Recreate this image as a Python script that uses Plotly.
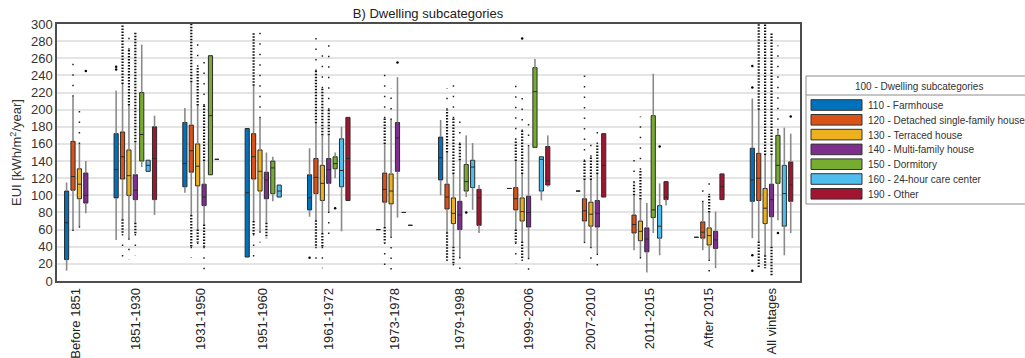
import plotly.graph_objects as go

# ---------------- data ----------------
vintages = ["Before 1851", "1851-1930", "1931-1950", "1951-1960", "1961-1972",
            "1973-1978", "1979-1998", "1999-2006", "2007-2010", "2011-2015",
            "After 2015", "All vintages"]
subcats = ["110 - Farmhouse", "120 - Detached single-family house",
           "130 - Terraced house", "140 - Multi-family house",
           "150 - Dormitory", "160 - 24-hour care center", "190 - Other"]
colors = ["#0072BD", "#D95319", "#EDB120", "#7E2F8E", "#77AC30", "#4DBEEE", "#A2142F"]

N = None
q1 = {
    "110": [25, 97, 110, 28, 83, 60, 118, 108, 105, N, 51, 93],
    "120": [106, 119, 127, 119, 102, 92, 84, 83, 70, 56, 50, 94],
    "130": [96, 100, 111, 105, 94, 90, 67, 70, 64, 47, 42, 67],
    "140": [91, 95, 88, 96, 114, 128, 60, 63, 63, 34, 38, 75],
    "150": [N, 140, 124, 102, 131, 80, 105, 156, N, 74, N, 114],
    "160": [N, 128, 142, 98, 110, 65, 109, 105, N, 50, N, 64],
    "190": [N, 95, N, N, 94, N, 65, 112, 98, 95, 95, 93],
}
median = {
    "110": [68, 130, 137, 103, 97, 60, 144, 108, 105, N, 51, 118],
    "120": [122, 145, 152, 145, 121, 107, 98, 96, 82, 66, 57, 120],
    "130": [113, 123, 134, 128, 114, 105, 79, 81, 78, 58, 53, 85],
    "140": [100, 106, 98, 118, 130, 167, 77, 80, 79, 49, 48, 95],
    "150": [N, 171, 193, 132, 137, 80, 116, 221, N, 83, N, 135],
    "160": [N, 135, 142, 105, 129, 65, 133, 142, N, 64, N, 102],
    "190": [N, 143, N, N, 143, N, 97, 117, 135, 98, 110, 112],
}
q3 = {
    "110": [105, 172, 185, 178, 124, 60, 168, 108, 105, N, 51, 155],
    "120": [163, 174, 182, 172, 143, 126, 113, 109, 96, 77, 69, 149],
    "130": [131, 153, 160, 153, 135, 125, 97, 97, 92, 70, 62, 108],
    "140": [126, 124, 113, 127, 143, 185, 93, 99, 94, 62, 58, 113],
    "150": [N, 220, 263, 140, 145, 80, 136, 249, N, 193, N, 170],
    "160": [N, 141, 142, 112, 166, 65, 141, 145, N, 88, N, 135],
    "190": [N, 180, N, N, 191, N, 107, 157, 172, 116, 125, 139],
}
whisk_lo = {
    "110": [12, 48, 103, 28, 75, 60, 100, 108, 105, N, 51, 50],
    "120": [60, 72, 77, 70, 71, 63, 57, 60, 46, 36, 36, 46],
    "130": [64, 50, 60, 58, 56, 52, 40, 46, 40, 28, 25, 30],
    "140": [79, 68, 66, 68, 81, 74, 28, 27, 32, 10, 15, 40],
    "150": [N, 133, 124, 93, 120, 80, 98, 156, N, 56, N, 71],
    "160": [N, 128, 142, 98, 58, 65, 83, 94, N, 30, N, 30],
    "190": [N, 77, N, N, 94, N, 56, 110, 98, 88, 95, 56],
}
whisk_hi = {
    "110": [115, 222, 202, 178, 155, 60, 188, 108, 105, N, 51, 213],
    "120": [215, 230, 232, 228, 184, 160, 150, 140, 118, 100, 92, 200],
    "130": [160, 205, 205, 190, 170, 188, 125, 125, 118, 95, 80, 147],
    "140": [140, 162, 140, 150, 170, 238, 141, 157, 125, 91, 81, 147],
    "150": [N, 276, 263, 145, 150, 80, 170, 259, N, 242, N, 176],
    "160": [N, 141, 142, 112, 180, 65, 161, 145, N, 114, N, 179],
    "190": [N, 193, N, N, 191, N, 112, 170, 172, 116, 125, 172],
}
# outlier clouds: top of the dense cloud / highest sparse outlier, and the same below
out_up_dense = {
    "120": [N, 300, 300, 290, 245, 190, 200, 165, 140, 115, N, 300],
    "130": [N, 270, 250, N, 225, N, 190, 175, 145, 130, 100, 300],
    "140": [N, 290, 205, N, 200, N, 160, N, 160, N, N, 290],
}
out_up_max = {
    "120": [258, N, N, N, 287, 242, 225, 236, 240, 147, 114, N],
    "130": [200, 290, 280, 290, 270, 225, 233, 215, 163, 192, 120, N],
    "140": [N, N, 260, N, 280, N, 190, 185, 180, N, N, N],
    "150": [N, N, N, N, N, N, N, N, N, N, N, 275],
}
out_lo_dense = {
    "120": [N, 55, 40, 55, 40, 45, 25, 45, N, N, N, 15],
    "130": [N, N, 45, N, 40, N, 20, 25, N, N, N, 15],
    "140": [N, 55, 40, 50, N, N, N, N, N, N, N, 6],
}
out_lo_min = {
    "120": [48, 25, 27, 28, 17, 12, 20, 20, 43, N, N, N],
    "130": [55, 25, 35, 45, 15, 12, 12, 17, 17, 17, 7, N],
    "140": [N, 30, 12, N, 45, N, 6, 7, 12, N, N, N],
}
# isolated outliers: vintage index, subcategory key, value
iso_vintage = [1, 1, 4, 11, 11, 11, 11, 0, 5, 4, 6, 11, 9, 11, 7]
iso_cat = ["110", "110", "110", "110", "110", "110", "110", "140", "140",
           "150", "150", "150", "160", "190", "130"]
iso_value = [250, 247, 27, 251, 226, 30, 12, 245, 255, 85, 80, 56, 157, 192, 283]

keys = ["110", "120", "130", "140", "150", "160", "190"]

# ---------------- layout of box positions ----------------
GAP = 4.74  # distance between last box of a group and first box of the next
pos = {k: [N] * len(vintages) for k in keys}
centers = []
p = 0.0
for gi in range(len(vintages)):
    present = [k for k in keys if q1[k][gi] is not None]
    first = p
    for j, k in enumerate(present):
        pos[k][gi] = p
        if j < len(present) - 1:
            p += 1.0
    centers.append((first + p) / 2)
    p += GAP
last_pos = p - GAP

fig = go.Figure()

# whiskers (two segments each, so they never cross the box)
for ci, k in enumerate(keys):
    xs, ys = [], []
    for gi in range(len(vintages)):
        if pos[k][gi] is None:
            continue
        x = pos[k][gi]
        if whisk_lo[k][gi] < q1[k][gi]:
            xs += [x, x, None]; ys += [whisk_lo[k][gi], q1[k][gi], None]
        if whisk_hi[k][gi] > q3[k][gi]:
            xs += [x, x, None]; ys += [q3[k][gi], whisk_hi[k][gi], None]
    fig.add_trace(go.Scatter(x=xs, y=ys, mode="lines", line=dict(color="#8a8a8a", width=1.6),
                             showlegend=False, hoverinfo="skip"))

# outlier clouds
dx, dy = [], []
sx, sy = [], []
for k in keys:
    for gi in range(len(vintages)):
        x = pos[k][gi]
        if x is None:
            continue
        top = whisk_hi[k][gi]
        if k in out_up_dense and out_up_dense[k][gi] is not None:
            dx += [x, x, None]; dy += [top, out_up_dense[k][gi], None]
            top = out_up_dense[k][gi]
        if k in out_up_max and out_up_max[k][gi] is not None:
            sx += [x, x, None]; sy += [top, out_up_max[k][gi], None]
        bot = whisk_lo[k][gi]
        if k in out_lo_dense and out_lo_dense[k][gi] is not None:
            dx += [x, x, None]; dy += [bot, out_lo_dense[k][gi], None]
            bot = out_lo_dense[k][gi]
        if k in out_lo_min and out_lo_min[k][gi] is not None:
            sx += [x, x, None]; sy += [bot, out_lo_min[k][gi], None]

fig.add_trace(go.Scatter(x=dx, y=dy, mode="lines", line=dict(color="#111", width=2.2, dash="1.5px,1.5px"),
                         showlegend=False, hoverinfo="skip"))
fig.add_trace(go.Scatter(x=sx, y=sy, mode="lines", line=dict(color="#222", width=1.5, dash="1.5px,9px"),
                         showlegend=False, hoverinfo="skip"))
fig.add_trace(go.Scatter(x=[pos[c][g] for g, c in zip(iso_vintage, iso_cat)], y=iso_value,
                         mode="markers", marker=dict(color="black", size=2.5),
                         showlegend=False, hoverinfo="skip"))

# boxes
for ci, k in enumerate(keys):
    idx = [gi for gi in range(len(vintages)) if pos[k][gi] is not None]
    fig.add_trace(go.Box(
        x=[pos[k][gi] for gi in idx],
        q1=[q1[k][gi] for gi in idx],
        median=[median[k][gi] for gi in idx],
        q3=[q3[k][gi] for gi in idx],
        lowerfence=[q1[k][gi] for gi in idx],
        upperfence=[q3[k][gi] for gi in idx],
        fillcolor=colors[ci], line=dict(color="#2b2b2b", width=1),
        width=0.65, whiskerwidth=0, name=subcats[ci], showlegend=False,
        boxpoints=False, hoverinfo="skip"))

# ---------------- legend drawn in paper space ----------------
L, R, T, B = 57, 800, 24, 281
def pxx(v):
    return (v - L) / (R - L)
def pyy(v):
    return (B - v) / (B - T)

FONT = "Liberation Sans, Arial, sans-serif"
shapes = [
    dict(type="rect", xref="paper", yref="paper", x0=pxx(806), x1=pxx(1040), y0=pyy(204), y1=pyy(76),
         line=dict(color="#8c8c8c", width=1), fillcolor="white", layer="above"),
    dict(type="line", xref="paper", yref="paper", x0=pxx(806), x1=pxx(1040), y0=pyy(95), y1=pyy(95),
         line=dict(color="#8c8c8c", width=1), layer="above"),
]
annotations = [dict(text="100 - Dwelling subcategories", xref="paper", yref="paper", x=pxx(919), y=pyy(86),
                    xanchor="center", yanchor="middle", showarrow=False,
                    font=dict(size=10, color="#333", family=FONT))]
for i, lab in enumerate(subcats):
    c = 105 + i * 14.8
    shapes.append(dict(type="rect", xref="paper", yref="paper", x0=pxx(811), x1=pxx(862),
                       y0=pyy(c + 5.3), y1=pyy(c - 5.3), fillcolor=colors[i],
                       line=dict(color="#333", width=1), layer="above"))
    annotations.append(dict(text=lab, xref="paper", yref="paper", x=pxx(866), y=pyy(c + 0.5),
                            xanchor="left", yanchor="middle", showarrow=False,
                            font=dict(size=10, color="#333", family=FONT)))

fig.update_layout(
    width=1025, height=358,
    margin=dict(l=L, r=1025 - R, t=T, b=358 - B, autoexpand=False),
    paper_bgcolor="white", plot_bgcolor="white",
    font=dict(family=FONT, size=13, color="#333"),
    title=dict(text="B) Dwelling subcategories", x=pxx(428), xref="paper", y=1 - 13 / 358,
               yanchor="middle", xanchor="center", font=dict(size=13, color="#222")),
    boxmode="overlay",
    shapes=shapes, annotations=annotations,
    xaxis=dict(range=[-1.5, last_pos + 1.45], tickmode="array", tickvals=centers, ticktext=vintages,
               tickangle=-90, showgrid=False, zeroline=False, showline=True, mirror=True,
               linecolor="#4d4d4d", linewidth=1.5, ticks="", tickfont=dict(size=13, color="#222")),
    yaxis=dict(range=[0, 300], dtick=20, tick0=0, showgrid=True, gridcolor="#e4e4e4", gridwidth=1.5,
               zeroline=False, showline=True, mirror=True, linecolor="#4d4d4d", linewidth=1.5,
               ticks="", tickfont=dict(size=13, color="#333"),
               title=dict(text="EUI [kWh/m<sup>2</sup>/year]", font=dict(size=13, color="#333"), standoff=6)),
)

fig.write_html("out.html")
